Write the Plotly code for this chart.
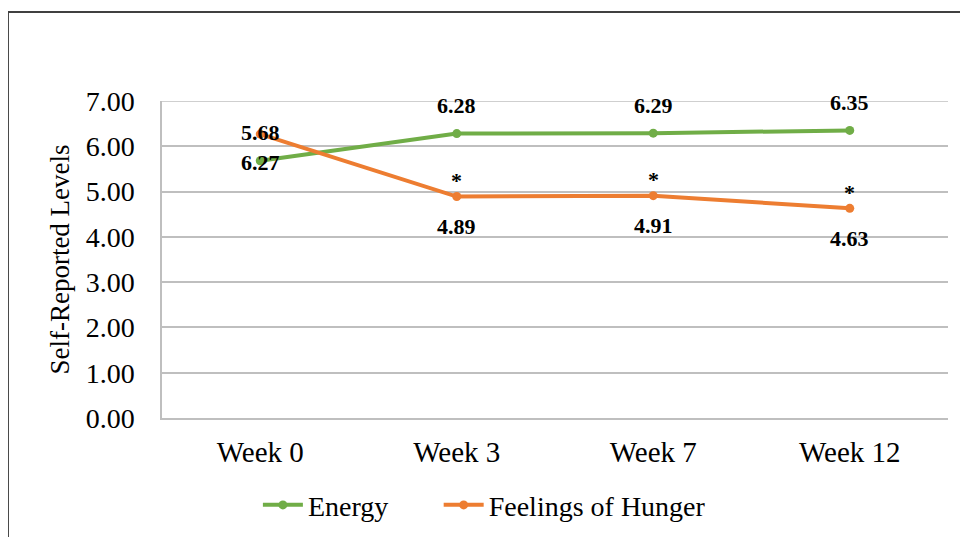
import plotly.graph_objects as go

# data
weeks = ['Week 0', 'Week 3', 'Week 7', 'Week 12']
energy = [5.68, 6.28, 6.29, 6.35]
hunger = [6.27, 4.89, 4.91, 4.63]
energy_labels = ['5.68', '6.28', '6.29', '6.35']
hunger_labels = ['6.27', '4.89', '4.91', '4.63']
hunger_sig = ['', '*', '*', '*']

green = '#70AD47'
orange = '#ED7D31'
serif = 'Liberation Serif'
grid = '#BFBFBF'

fig = go.Figure()
fig.add_trace(go.Scatter(x=weeks, y=energy, name='Energy', mode='lines+markers', legend='legend',
                         line=dict(color=green, width=4), marker=dict(size=9, color=green)))
fig.add_trace(go.Scatter(x=weeks, y=hunger, name='Feelings of Hunger', mode='lines+markers',
                         legend='legend2',
                         line=dict(color=orange, width=4), marker=dict(size=9, color=orange)))

# data labels (week 0 labels sit swapped, as in the original)
for i, w in enumerate(weeks):
    fig.add_annotation(x=w, y=energy[i], text='<b>%s</b>' % energy_labels[i], showarrow=False,
                       yshift=28, font=dict(family=serif, size=22, color='black'))
    fig.add_annotation(x=w, y=hunger[i], text='<b>%s</b>' % hunger_labels[i], showarrow=False,
                       yshift=-30 if i else -28, font=dict(family=serif, size=22, color='black'))
    if hunger_sig[i]:
        fig.add_annotation(x=w, y=hunger[i], text='<b>%s</b>' % hunger_sig[i], showarrow=False,
                           yshift=16, font=dict(family=serif, size=22, color='black'))

# outer frame of the chart area (top and left edges visible)
fig.add_shape(type='path', xref='paper', yref='paper',
              path='M -0.196 -0.5 L -0.196 1.281 L 1.1 1.281',
              line=dict(color='#404040', width=2))

legend_style = dict(orientation='h', xanchor='left', y=-0.275, yanchor='middle',
                    font=dict(family=serif, size=28), itemwidth=40)

# page puts the figure 8px in from the corner, so margins are shifted by 8
fig.update_layout(
    width=968, height=537,
    plot_bgcolor='white', paper_bgcolor='white',
    margin=dict(l=154, r=28, t=93, b=127),
    font=dict(family=serif, color='black'),
    xaxis=dict(showgrid=False, tickfont=dict(family=serif, size=29), ticks='', ticklabelstandoff=7,
               range=[-0.5, 3.5], showline=True, linecolor=grid, linewidth=1.5),
    yaxis=dict(range=[0, 7], dtick=1, tickformat='.2f', showgrid=True, gridcolor=grid,
               gridwidth=1.5, zeroline=False, showline=True, linecolor=grid, linewidth=1.5,
               tickfont=dict(family=serif, size=28), ticklabelstandoff=20,
               title=dict(text='Self-Reported Levels', font=dict(family=serif, size=27), standoff=8)),
    legend=dict(x=0.122, **legend_style),
    legend2=dict(x=0.352, **legend_style),
    showlegend=True,
)
fig.add_shape(type='line', xref='paper', yref='y', x0=0, x1=1, y0=7, y1=7,
              line=dict(color=grid, width=1.5), layer='below')

fig.write_html('out.html')
